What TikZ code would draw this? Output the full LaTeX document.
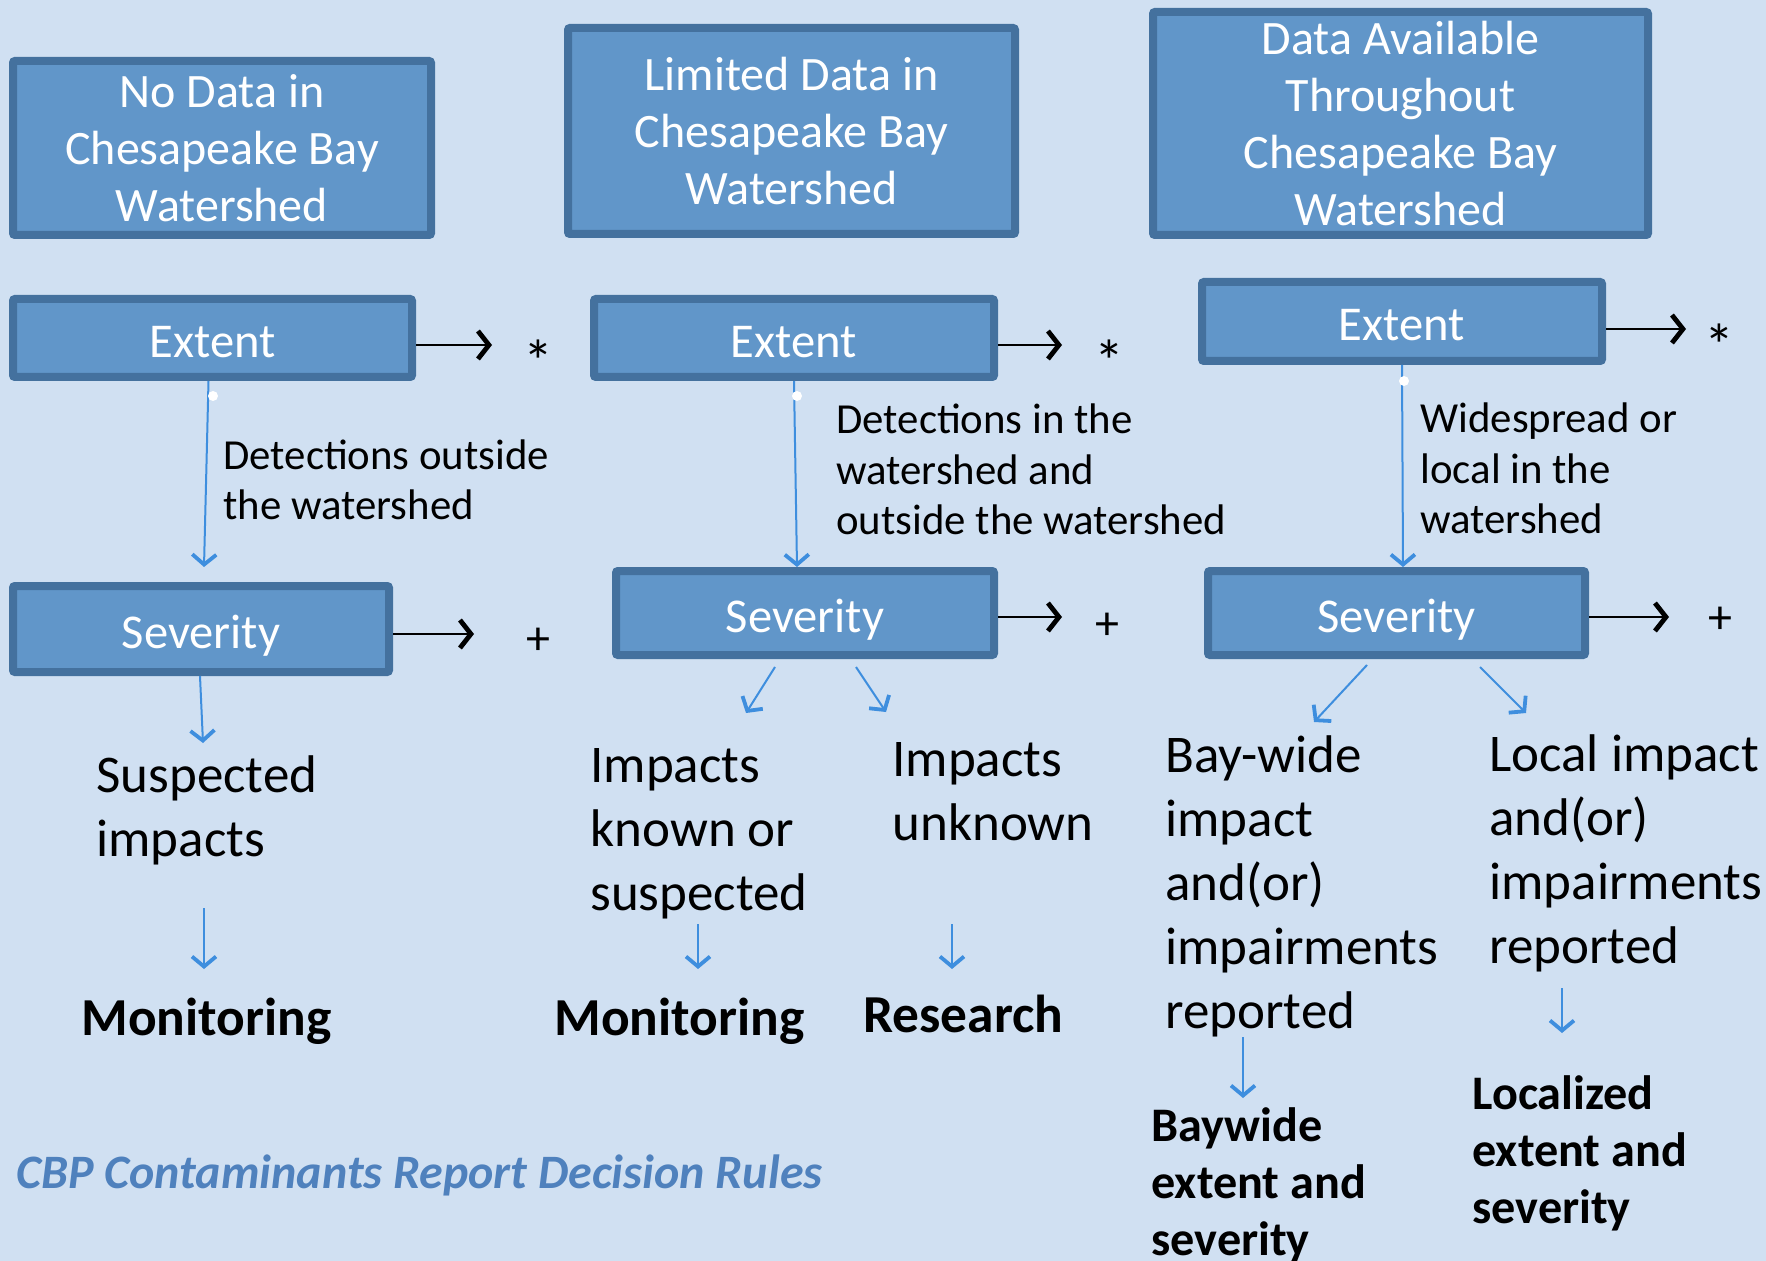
\documentclass[tikz,border=0pt]{standalone}
\usepackage{fontspec}
\setmainfont{Carlito}
\usetikzlibrary{arrows.meta,calc}
\definecolor{bgc}{RGB}{208,224,242}
\definecolor{boxfill}{RGB}{97,150,201}
\definecolor{boxborder}{RGB}{68,113,158}
\definecolor{arrblue}{RGB}{62,142,222}
\definecolor{titleblue}{RGB}{79,129,189}
\begin{document}
\begin{tikzpicture}[x=0.5pt,y=-0.5pt,
  box/.style={draw=boxborder, fill=boxfill, line width=4pt, rounded corners=1pt,
    text=white, inner sep=0pt, align=center},
  topbox/.style={box, font=\fontsize{24}{28.4}\selectfont},
  stepbox/.style={box, font=\fontsize{24.3}{28}\selectfont, text height=19.5pt, text depth=0pt},
  lbl/.style={anchor=base west, inner sep=0pt, align=left, font=\fontsize{21.4}{25.3}\selectfont},
  outc/.style={anchor=base west, inner sep=0pt, align=left, font=\fontsize{26.5}{32}\selectfont},
  res/.style={anchor=base west, inner sep=0pt, font=\bfseries\fontsize{26.7}{32}\selectfont},
  res2/.style={anchor=base west, inner sep=0pt, align=left, font=\bfseries\fontsize{24.1}{28.5}\selectfont},
  star/.style={inner sep=0pt, font=\fontsize{30}{32}\selectfont},
  plus/.style={inner sep=0pt, font=\fontsize{24}{28}\selectfont},
  blk/.style={line width=1.2pt, black, -{Straight Barb[length=5.5pt,width=14pt,line width=2.4pt]}},
  barr/.style={line width=1pt, arrblue, -{Straight Barb[length=5pt,width=12pt,line width=1.9pt]}},
  dot/.style={circle, fill=white, inner sep=0pt, minimum size=5pt}
]
\useasboundingbox (0,0) rectangle (1766,1261);
\fill[bgc] (0,0) rectangle (1766,1261);
\clip (0,0) rectangle (1766,1261);

% header boxes
\node[topbox, minimum width=209pt, minimum height=87pt] (b1) at (222,148) {No Data in\\Chesapeake Bay\\Watershed};
\node[topbox, minimum width=223.5pt, minimum height=103pt] (b2) at (791.5,131) {Limited Data in\\Chesapeake Bay\\Watershed};
\node[topbox, minimum width=247.5pt, minimum height=111.5pt] (b3) at (1400.5,123.5) {Data Available\\Throughout\\Chesapeake Bay\\Watershed};

% extent boxes
\node[stepbox, minimum width=199.5pt, minimum height=39pt] (e1) at (212.5,338) {Extent};
\node[stepbox, minimum width=200pt, minimum height=39pt] (e2) at (794,338) {Extent};
\node[stepbox, minimum width=200pt, minimum height=39.5pt] (e3) at (1402,321.5) {Extent};

% severity boxes
\node[stepbox, minimum width=188pt, minimum height=43pt] (s1) at (201,629) {Severity};
\node[stepbox, minimum width=189pt, minimum height=42pt] (s2) at (805,613) {Severity};
\node[stepbox, minimum width=188.5pt, minimum height=42pt] (s3) at (1396.5,613) {Severity};

% star / plus
\node[star] (st1) at (538,361) {*};
\node[star] (st2) at (1109,361) {*};
\node[star] (st3) at (1719,345) {*};
\node[plus] (pl1) at (538,641) {+};
\node[plus] (pl2) at (1107,626) {+};
\node[plus] (pl3) at (1720,620) {+};

\coordinate (ae1) at (492,345);
\coordinate (ae2) at (1062,345);
\coordinate (ae3) at (1686,329);
\coordinate (as1) at (474,634);
\coordinate (as2) at (1062,617);
\coordinate (as3) at (1669,617);
\draw[blk] (e1.east |- ae1) -- (ae1);
\draw[blk] (e2.east |- ae2) -- (ae2);
\draw[blk] (e3.east |- ae3) -- (ae3);
\draw[blk] (s1.east |- as1) -- (as1);
\draw[blk] (s2.east |- as2) -- (as2);
\draw[blk] (s3.east |- as3) -- (as3);

% labels (base = baseline of last line)
\node[lbl] (l1) at (223,520) {Detections outside\\the watershed};
\node[lbl] (l2) at (836,535) {Detections in the\\watershed and\\outside the watershed};
\node[lbl] (l3) at (1420,534) {Widespread or\\local in the\\watershed};

% outcomes
\node[outc] (o1) at (96,856) {Suspected\\impacts};
\node[outc] (o2) at (590,910) {Impacts\\known or\\suspected};
\node[outc] (o3) at (892,840) {Impacts\\unknown};
\node[outc] (o4) at (1165,1028) {Bay-wide\\impact\\and(or)\\impairments\\reported};
\node[outc] (o5) at (1489,963) {Local impact\\and(or)\\impairments\\reported};

% results
\node[res] (r1) at (81,1035) {Monitoring};
\node[res] (r2) at (554,1035) {Monitoring};
\node[res] (r3) at (863,1032) {Research};
\node[res2] (r4) at (1151,1255) {Baywide\\extent and\\severity};
\node[res2] (r5) at (1472,1223) {Localized\\extent and\\severity};

\node[anchor=base west, inner sep=0pt, text=titleblue, font=\bfseries\itshape\fontsize{24}{28}\selectfont] (title) at (16,1188) {CBP Contaminants Report Decision Rules};

% blue arrows
\coordinate (t1) at (204,567);
\coordinate (t2) at (203,743);
\coordinate (t3a) at (204,908); \coordinate (t3) at (204,969);
\coordinate (t4) at (797,567);
\coordinate (t5a) at (775,667); \coordinate (t5) at (746,713);
\coordinate (t6a) at (856,667); \coordinate (t6) at (886,712);
\coordinate (t7a) at (698,924); \coordinate (t7) at (698,969);
\coordinate (t8a) at (952,924); \coordinate (t8) at (952,969);
\coordinate (t9) at (1403,567);
\coordinate (t10a) at (1367,665); \coordinate (t10) at (1314,722);
\coordinate (t11a) at (1480,667); \coordinate (t11) at (1526,713);
\coordinate (t12a) at (1243,1037); \coordinate (t12) at (1243,1098);
\coordinate (t13a) at (1562,988); \coordinate (t13) at (1562,1033);

\draw[barr] ([xshift=-2pt]e1.south) -- (t1);
\draw[barr] ([xshift=-0.5pt]s1.south) -- (t2);
\draw[barr] (t3a) -- (t3);
\draw[barr] (e2.south) -- (t4);
\draw[barr] (t5a) -- (t5);
\draw[barr] (t6a) -- (t6);
\draw[barr] (t7a) -- (t7);
\draw[barr] (t8a) -- (t8);
\draw[barr] (e3.south) -- (t9);
\draw[barr] (t10a) -- (t10);
\draw[barr] (t11a) -- (t11);
\draw[barr] (t12a) -- (t12);
\draw[barr] (t13a) -- (t13);

\node[dot] (d1) at (213,396) {};
\node[dot] (d2) at (797,396) {};
\node[dot] (d3) at (1404,381) {};
\end{tikzpicture}
\end{document}
